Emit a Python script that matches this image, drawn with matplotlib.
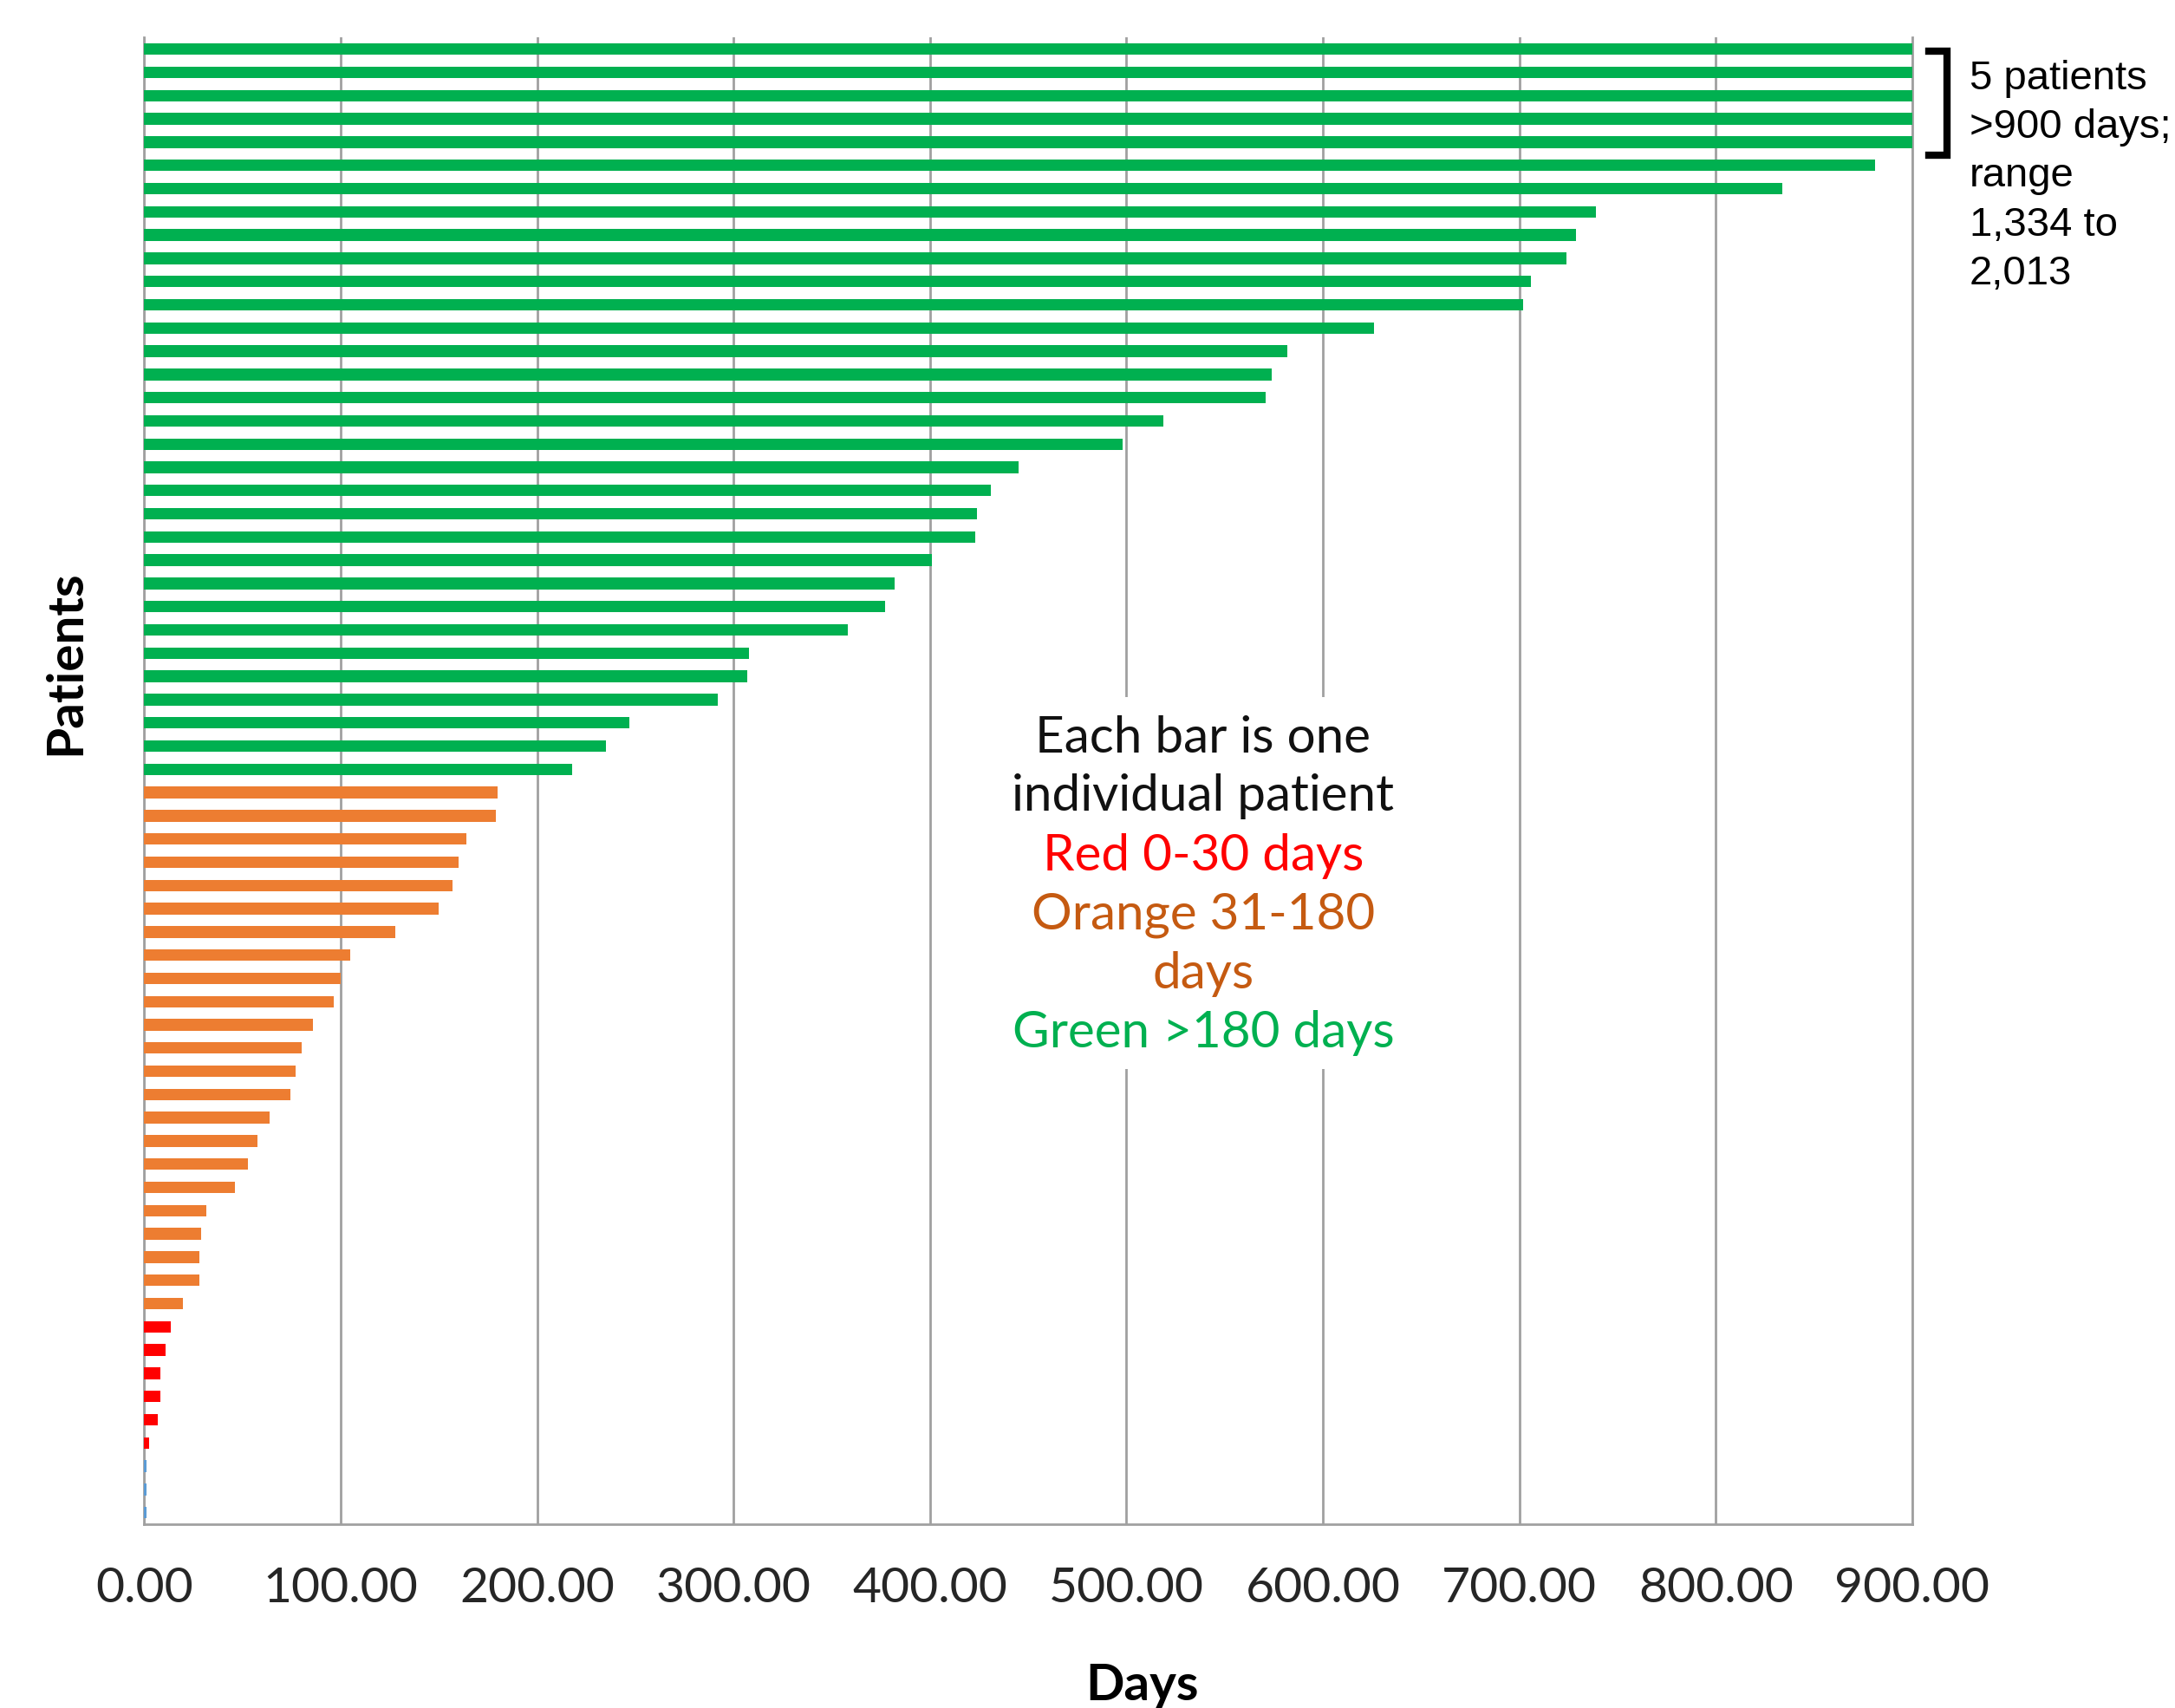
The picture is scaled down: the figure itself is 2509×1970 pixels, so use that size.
import numpy as np
import matplotlib
matplotlib.use('Agg')
import matplotlib.pyplot as plt
from matplotlib.patches import Rectangle

# days per patient, longest first (top of chart)
green_days = [2013, 1900, 1700, 1500, 1334, 881, 834, 739, 729, 724, 706, 702,
              626, 582, 574, 571, 519, 498, 445, 431, 424, 423, 401, 382, 377,
              358, 308, 307, 292, 247, 235, 218]
orange_days = [180, 179, 164, 160, 157, 150, 128, 105, 100, 96.5, 86, 80, 77,
               74.5, 64, 57.5, 52.7, 46, 31.7, 28.9, 28.1, 28.1, 19.5]
red_days = [13.7, 10.9, 8.1, 8.1, 7.1, 2.3]
blue_days = [1.2, 1.2, 1.2]

x_ticks = [0, 100, 200, 300, 400, 500, 600, 700, 800, 900]
note_lines = ['Each bar is one', 'individual patient', 'Red 0-30 days',
              'Orange 31-180', 'days', 'Green >180 days']
note_colors = ['#111111', '#111111', '#FF0000', '#C55A11', '#C55A11', '#00B050']
side_note = '5 patients\n>900 days;\nrange\n1,334 to\n2,013'

days = green_days + orange_days + red_days + blue_days
colors = (['#00B050'] * len(green_days) + ['#ED7D31'] * len(orange_days)
          + ['#FF0000'] * len(red_days) + ['#5B9BD5'] * len(blue_days))
ypos = np.arange(len(days))

fig = plt.figure(figsize=(25.09, 19.70), dpi=100)
ax = fig.add_axes([0.0663, 0.1076, 0.8129, 0.8704])

ax.barh(ypos, np.minimum(days, 900), height=0.5, color=colors, zorder=3)
ax.set_xlim(0, 900)
ax.set_ylim(len(days) - 0.5, -0.5)
ax.set_yticks([])
ax.set_xticks(x_ticks)
ax.set_xticklabels(['%.2f' % t for t in x_ticks], fontfamily='Lato',
                   fontsize=41, color='#262626')
ax.tick_params(axis='x', length=0, pad=35)
ax.grid(axis='x', color='#A0A0A0', linewidth=2)
ax.set_axisbelow(True)
ax.spines['top'].set_visible(False)
for s in ['left', 'bottom', 'right']:
    ax.spines[s].set_color('#A0A0A0')
    ax.spines[s].set_linewidth(2)

# white panel behind the note
ax.add_patch(Rectangle((430, 27.9), 220, 16.0, facecolor='white',
                       edgecolor='none', zorder=2))
line_y = [29.65, 32.16, 34.73, 37.29, 39.8, 42.37]
for txt, c, y in zip(note_lines, note_colors, line_y):
    ax.text(539, y, txt, ha='center', va='center', fontsize=42,
            fontfamily='Lato', color=c, zorder=4)

# bracket for the clipped bars
ax.plot([908.5, 917.6, 917.6, 908.5], [0.1, 0.1, 4.55, 4.55],
        color='black', linewidth=6, clip_on=False, solid_joinstyle='miter')
fig.text(0.9055, 0.965, side_note, ha='left', va='top', fontsize=34,
         fontfamily='Liberation Sans', linespacing=1.36)

fig.text(0.030, 0.612, 'Patients', rotation=90, ha='center', va='center',
         fontsize=42, fontweight='bold', fontfamily='Lato')
fig.text(0.525, 0.013, 'Days', ha='center', va='center',
         fontsize=42, fontweight='bold', fontfamily='Lato')

fig.savefig('out.png', dpi=100)
